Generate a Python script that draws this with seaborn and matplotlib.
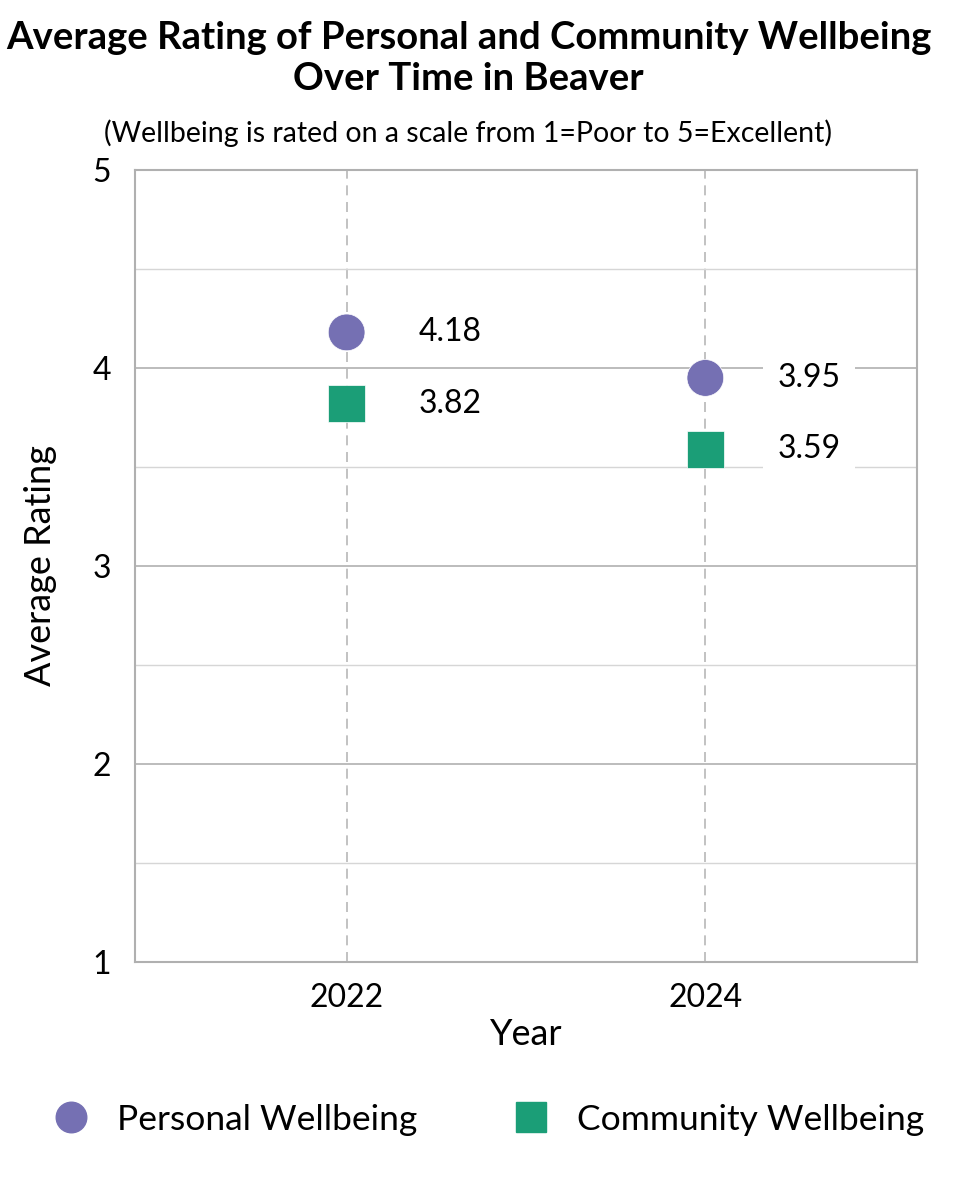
import pandas as pd
import seaborn as sns
import matplotlib.pyplot as plt
from matplotlib.ticker import MultipleLocator

# data
years = ['2022', '2024']
personal = [4.18, 3.95]
community = [3.82, 3.59]
series_names = ['Personal Wellbeing', 'Community Wellbeing']

df = pd.DataFrame({
    'Year': years * 2,
    'Rating': personal + community,
    'Measure': [series_names[0]] * len(years) + [series_names[1]] * len(years),
})

sns.set_style('white')
plt.rcParams['font.family'] = ['Lato', 'DejaVu Sans']
plt.rcParams['text.color'] = 'black'
plt.rcParams['axes.labelcolor'] = 'black'
plt.rcParams['xtick.color'] = 'black'
plt.rcParams['ytick.color'] = 'black'

colors = {'Personal Wellbeing': '#7570b3', 'Community Wellbeing': '#1b9e77'}
markers = {'Personal Wellbeing': 'o', 'Community Wellbeing': 's'}

fig = plt.figure(figsize=(9.6, 12), dpi=100)
ax = fig.add_axes([0.1406, 0.1983, 0.8146, 0.66])

sns.scatterplot(data=df, x='Year', y='Rating', hue='Measure', style='Measure',
                palette=colors, markers=markers, s=700, linewidth=0.5,
                edgecolor='white', ax=ax, zorder=5, legend=False)

ax.set_xlim(-0.59, 1.59)
ax.set_ylim(1, 5)
ax.yaxis.set_major_locator(MultipleLocator(1))
ax.yaxis.set_minor_locator(MultipleLocator(0.5))
ax.grid(axis='y', which='major', color='#b0b0b0', linewidth=1.2, zorder=0)
ax.grid(axis='y', which='minor', color='#d6d6d6', linewidth=1.0, zorder=0)
ax.grid(axis='x', which='major', color='#b8b8b8', linestyle=(0, (6, 4)), linewidth=1.2, zorder=0)
for s in ax.spines.values():
    s.set_color('#b0b0b0')
    s.set_linewidth(1.5)

ax.tick_params(axis='both', labelsize=23, length=0)
ax.tick_params(axis='y', pad=17)
ax.tick_params(axis='x', pad=15)
ax.set_xlabel('Year', fontsize=26, labelpad=4)
ax.set_ylabel('Average Rating', fontsize=26, labelpad=26)

# value labels
for i, yr in enumerate(years):
    for vals in (personal, community):
        ax.annotate(f'{vals[i]:.2f}', xy=(i, vals[i]), xytext=(52, 0),
                    textcoords='offset points', ha='left', va='center',
                    fontsize=23, zorder=6,
                    bbox=dict(boxstyle='square,pad=0.45', fc='white', ec='none'))

fig.text(0.488, 0.951, 'Average Rating of Personal and Community Wellbeing\nOver Time in Beaver',
         ha='center', va='center', fontsize=27.5, fontweight='bold', linespacing=1.25)
fig.text(0.488, 0.889, '(Wellbeing is rated on a scale from 1=Poor to 5=Excellent)',
         ha='center', va='center', fontsize=20.5)

handles = [plt.Line2D([], [], marker=markers[n], color=colors[n], linestyle='none',
                      markersize=22) for n in series_names]
fig.legend(handles, series_names, loc='center', bbox_to_anchor=(0.5, 0.067), ncol=2,
           frameon=False, fontsize=25.5, columnspacing=2.2, handletextpad=0.3)

fig.savefig('out.png', dpi=100)
